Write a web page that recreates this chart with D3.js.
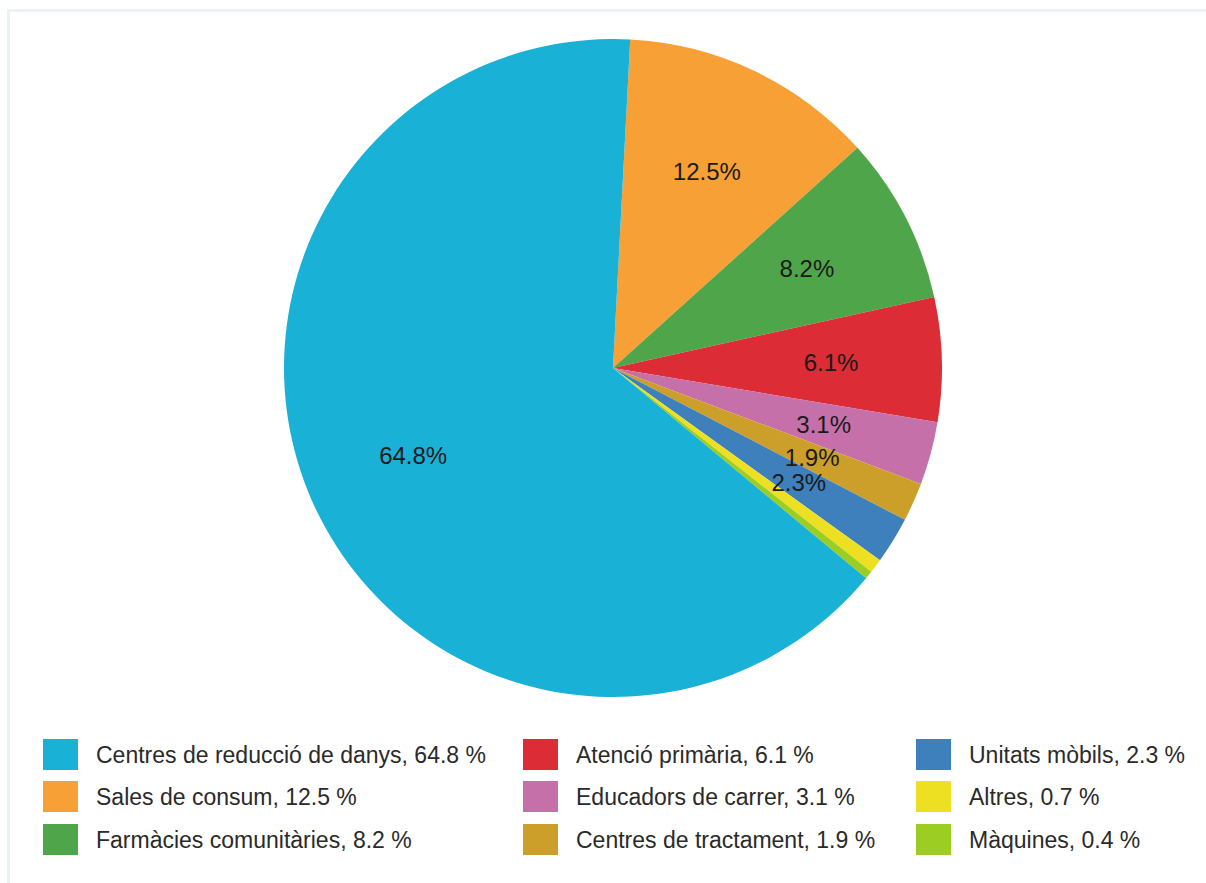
<!DOCTYPE html>
<html>
<head>
<meta charset="utf-8">
<script src="https://cdn.jsdelivr.net/npm/d3@7/dist/d3.min.js"></script>
<style>
  html, body { margin: 0; padding: 0; background: #ffffff; }
  svg { display: block; }
  text { font-family: "Liberation Sans", Arial, sans-serif; }
</style>
</head>
<body>
<svg id="chart" width="1206" height="883"></svg>
<script>
// Categories in drawing order (clockwise from the top)
const categories = [
  "Sales de consum",
  "Farmàcies comunitàries",
  "Atenció primària",
  "Educadors de carrer",
  "Centres de tractament",
  "Unitats mòbils",
  "Altres",
  "Màquines",
  "Centres de reducció de danys"
];
const shares = [12.5, 8.2, 6.1, 3.1, 1.9, 2.3, 0.7, 0.4, 64.8];
const colours = ["#f7a035", "#4fa54a", "#dc2c36", "#c570a9", "#cb9f2a", "#3e80bb", "#ede023", "#9ccd22", "#1ab1d6"];

// Legend layout: three columns, three rows each
const legendOrder = [
  "Centres de reducció de danys", "Sales de consum", "Farmàcies comunitàries",
  "Atenció primària", "Educadors de carrer", "Centres de tractament",
  "Unitats mòbils", "Altres", "Màquines"
];

const svg = d3.select("#chart");

// faint frame around the chart area
svg.append("path")
  .attr("d", "M8.5,883 L8.5,10.5 L1206,10.5")
  .attr("fill", "none")
  .attr("stroke", "#eaf3f3")
  .attr("stroke-width", 3);

const cx = 613, cy = 368, R = 329;
const startAngle = 3 * Math.PI / 180;

const pie = d3.pie()
  .value(d => d.v)
  .sort(null)
  .startAngle(startAngle)
  .endAngle(startAngle + 2 * Math.PI);

const data = categories.map((c, i) => ({ name: c, v: shares[i], color: colours[i] }));
const arcs = pie(data);

const arc = d3.arc().innerRadius(0).outerRadius(R);
const labelArc = d3.arc().innerRadius(R * 0.663).outerRadius(R * 0.663);

const g = svg.append("g").attr("transform", `translate(${cx},${cy})`);

g.selectAll("path.slice")
  .data(arcs)
  .join("path")
  .attr("class", "slice")
  .attr("d", arc)
  .attr("fill", d => d.data.color);

g.selectAll("text.pct")
  .data(arcs.filter(d => d.data.v >= 1))
  .join("text")
  .attr("class", "pct")
  .attr("transform", d => `translate(${labelArc.centroid(d)})`)
  .attr("text-anchor", "middle")
  .attr("dy", "0.36em")
  .attr("font-size", 24)
  .attr("fill", "#1a1a1a")
  .text(d => d3.format(".1f")(d.data.v) + "%");

// Legend
const colX = [43, 523, 916];
const rowY = [739, 781, 824];
const legend = svg.append("g");
legendOrder.forEach((name, k) => {
  const i = categories.indexOf(name);
  const col = Math.floor(k / 3), row = k % 3;
  const item = legend.append("g").attr("transform", `translate(${colX[col]},${rowY[row]})`);
  item.append("rect")
    .attr("width", 35).attr("height", 31)
    .attr("fill", colours[i]);
  item.append("text")
    .attr("x", 53)
    .attr("y", 15.5)
    .attr("dy", "0.36em")
    .attr("font-size", 23)
    .attr("fill", "#2a2a2a")
    .text(`${name}, ${d3.format(".1f")(shares[i])} %`);
});
</script>
</body>
</html>
